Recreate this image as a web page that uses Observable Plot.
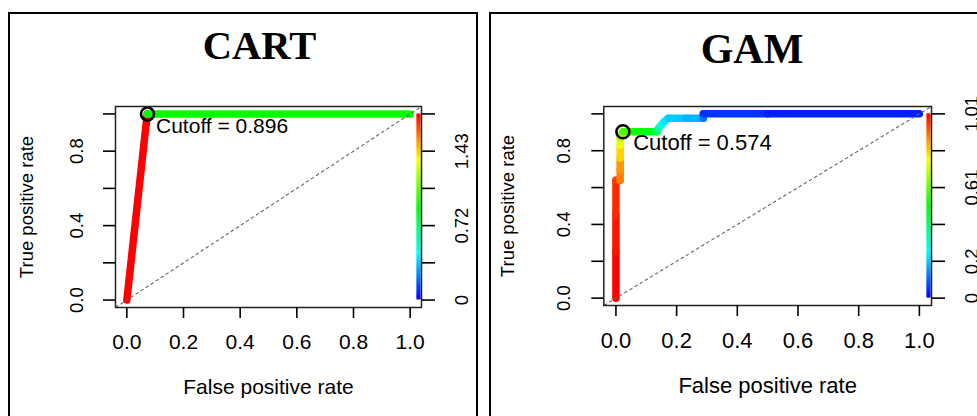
<!DOCTYPE html>
<html><head><meta charset="utf-8">
<script src="https://cdn.jsdelivr.net/npm/d3@7"></script>
<script src="https://cdn.jsdelivr.net/npm/@observablehq/plot@0.6"></script>
<style>
body{margin:0;background:#fff;}
#page{position:relative;width:977px;height:416px;overflow:hidden;background:#fff;}
.frame{position:absolute;border:2px solid #000;box-sizing:border-box;}
.title{position:absolute;font-family:"Liberation Serif","Times New Roman",serif;font-weight:bold;line-height:40px;transform:translateX(-50%);white-space:nowrap;color:#000;}
#page svg{position:absolute;top:0;}
</style></head>
<body><div id="page">
<div class="frame" style="left:8px;top:12px;width:470px;height:430px"></div>
<div class="frame" style="left:489px;top:12px;width:520px;height:430px"></div>
<div class="title" style="left:259.5px;top:25.5px;font-size:40.5px">CART</div>
<div class="title" style="left:752px;top:28.5px;font-size:42px">GAM</div>
</div>
<script>
// ---- data ----
const xTicks = [0, 0.2, 0.4, 0.6, 0.8, 1.0];
const yTicks = [0, 0.2, 0.4, 0.6, 0.8, 1.0];
const yLabelTicks = [0, 0.4, 0.8];

const cartFpr    = [0, 0.072, 1];
const cartTpr    = [0, 1, 1];
const cartCutoff = [1.79, 0.896, 0];
const cartBest   = {fpr: 0.073, tpr: 1.0, cutoff: "0.896"};
const cartCutoffMax = 1.79;
const cartRightPos    = [0, 0.4, 0.8];
const cartRightLabels = ["0", "0.72", "1.43"];

const gamFpr    = [0, 0, 0, 0, 0.014, 0.014, 0.014, 0.014, 0.014, 0.023, 0.06, 0.10, 0.135, 0.14, 0.15, 0.16, 0.173, 0.23, 0.288, 0.288, 0.5, 1.0];
const gamTpr    = [0, 0.25, 0.45, 0.64, 0.64, 0.70, 0.76, 0.83, 0.87, 0.903, 0.903, 0.903, 0.903, 0.92, 0.94, 0.96, 0.976, 0.976, 0.976, 1.0, 1.0, 1.0];
const gamCutoff = [1.01, 0.99, 0.97, 0.95, 0.88, 0.86, 0.80, 0.74, 0.68, 0.574, 0.52, 0.48, 0.42, 0.33, 0.27, 0.23, 0.20, 0.18, 0.12, 0.05, 0.03, 0];
const gamBest   = {fpr: 0.023, tpr: 0.903, cutoff: "0.574"};
const gamCutoffMax = 1.01;
const gamRightPos    = [0, 0.2, 0.6, 1.0];
const gamRightLabels = ["0", "0.2", "0.61", "1.01"];

const rainbow = t => d3.hsl(240 * (1 - t), 1, 0.5).formatHex();

function panel(o) {
  const xd = [-0.04, 1.04], yd = [-0.04, 1.04];
  const segs = d3.range(o.fpr.length - 1).map(i => ({x1: o.fpr[i], y1: o.tpr[i], x2: o.fpr[i + 1], y2: o.tpr[i + 1], c: o.cutoff[i]}));
  const N = 150;
  const bar = d3.range(N).map(i => ({y1: i / N, y2: Math.min(1, (i + 1.6) / N), c: (i + 0.5) / N * o.cutoffMax}));
  const fmt = d3.format(".1f");
  const svg = Plot.plot({
    width: o.width, height: 416,
    marginLeft: o.ml, marginRight: o.mr, marginTop: o.mt, marginBottom: 416 - o.mb,
    x: {domain: xd, axis: null},
    y: {domain: yd, axis: null},
    color: {type: "linear", domain: [0, o.cutoffMax], interpolate: rainbow},
    style: {fontFamily: "'Liberation Sans', Arial, sans-serif", background: "transparent", color: "#000", overflow: "visible"},
    marks: [
      Plot.link(segs, {x1: "x1", y1: "y1", x2: "x2", y2: "y2", stroke: "c", strokeWidth: 7.5, strokeLinecap: "round"}),
      Plot.link([xd], {x1: d => d[0], y1: d => d[0], x2: d => d[1], y2: d => d[1], stroke: "#666", strokeWidth: 1.1, strokeDasharray: "3.5,2.5"}),
      Plot.ruleX(bar, {x: xd[1], dx: -3, y1: "y1", y2: "y2", stroke: "c", strokeWidth: 4}),
      Plot.dot([o.best], {x: "fpr", y: "tpr", r: 6.5, stroke: "#000", strokeWidth: 2.6, fill: "none"}),
      Plot.text([o.best], {x: "fpr", y: "tpr", text: d => `Cutoff = ${d.cutoff}`, textAnchor: "start", lineAnchor: "middle", dx: o.cdx, dy: o.cdy, fontSize: o.fs, fill: "#000"}),
      Plot.frame({stroke: "#222", strokeWidth: 1.5}),
      Plot.axisX({ticks: xTicks, tickSize: 11, tickFormat: () => "", strokeWidth: 1.6, anchor: "bottom"}),
      Plot.text(xTicks, {x: d => d, frameAnchor: "bottom", dy: o.xdy, text: d => fmt(d), fontSize: o.fs, lineAnchor: "middle", fill: "#000"}),
      Plot.text(["False positive rate"], {frameAnchor: "bottom", dy: o.xtdy, fontSize: o.fs, lineAnchor: "middle", fill: "#000"}),
      Plot.axisY({ticks: yTicks, tickSize: 12, tickFormat: () => "", strokeWidth: 1.6, anchor: "left"}),
      Plot.text(yLabelTicks, {y: d => d, frameAnchor: "left", dx: o.ydx, rotate: -90, text: d => fmt(d), fontSize: 18.5, textAnchor: "middle", lineAnchor: "middle", fill: "#000"}),
      Plot.text(["True positive rate"], {frameAnchor: "left", dx: o.ytdx, rotate: -90, fontSize: 18.5, textAnchor: "middle", lineAnchor: "middle", fill: "#000"}),
      Plot.axisY({ticks: yTicks, tickSize: 13, tickFormat: () => "", strokeWidth: 1.6, anchor: "right"}),
      Plot.text(o.rightPos, {y: d => d, frameAnchor: "right", dx: 41, rotate: -90, text: (d, i) => o.rightLabels[i], fontSize: 18.5, textAnchor: "middle", lineAnchor: "middle", fill: "#000"})
    ]
  });
  svg.style.left = o.left + "px";
  document.getElementById("page").appendChild(svg);
}

panel({fpr: cartFpr, tpr: cartTpr, cutoff: cartCutoff, best: cartBest, cutoffMax: cartCutoffMax,
  rightPos: cartRightPos, rightLabels: cartRightLabels,
  left: 0, width: 490, ml: 115, mr: 490 - 421, mt: 106, mb: 307,
  fs: 21, cdx: 8.5, cdy: 12.7, xdy: 34.7, xtdy: 79.7, ydx: -38, ytdx: -88.5});

panel({fpr: gamFpr, tpr: gamTpr, cutoff: gamCutoff, best: gamBest, cutoffMax: gamCutoffMax,
  rightPos: gamRightPos, rightLabels: gamRightLabels,
  left: 488, width: 489, ml: 115.3, mr: 46, mt: 106, mb: 305,
  fs: 22, cdx: 10.3, cdy: 11.6, xdy: 35, xtdy: 80, ydx: -40, ytdx: -95.3});
</script>
</body></html>
